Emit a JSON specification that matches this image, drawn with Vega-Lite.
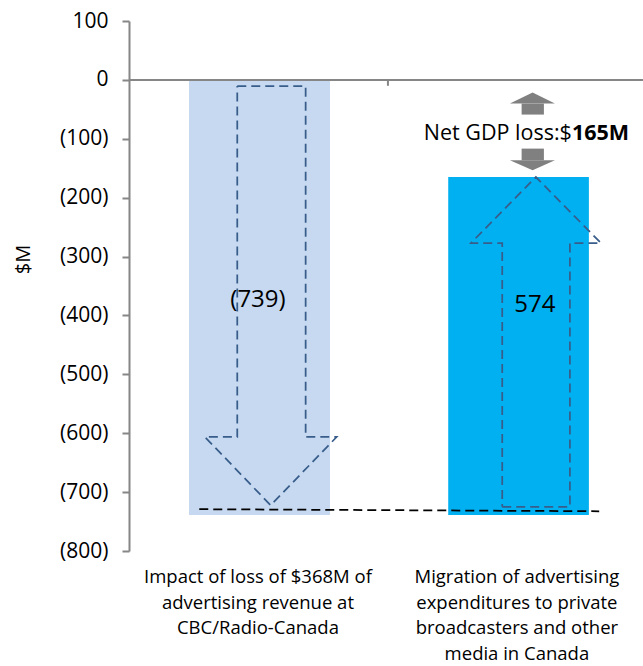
{
  "$schema": "https://vega.github.io/schema/vega-lite/v6.json",
  "width": 514,
  "height": 530,
  "autosize": {"type": "none"},
  "padding": {"left": 129, "top": 21, "right": 0, "bottom": 115},
  "background": "#ffffff",
  "config": {"font": "Open Sans", "view": {"stroke": null}},
  "datasets": {
    "bars": [
      {"series": "CBC", "x0": 0.2317, "x1": 0.7761, "top": 0, "bottom": -739},
      {"series": "Private", "x0": 1.2328, "x1": 1.776, "top": -165, "bottom": -739}
    ],
    "outline": [
      {"arrow": "down", "o": 1, "x": 0.4181, "y": -10.4},
      {"arrow": "down", "o": 2, "x": 0.6822, "y": -10.4},
      {"arrow": "down", "o": 3, "x": 0.6822, "y": -606.4},
      {"arrow": "down", "o": 4, "x": 0.8019, "y": -606.4},
      {"arrow": "down", "o": 5, "x": 0.5471, "y": -722.4},
      {"arrow": "down", "o": 6, "x": 0.2934, "y": -606.4},
      {"arrow": "down", "o": 7, "x": 0.4181, "y": -606.4},
      {"arrow": "down", "o": 8, "x": 0.4181, "y": -10.4},
      {"arrow": "up", "o": 1, "x": 1.4413, "y": -725},
      {"arrow": "up", "o": 2, "x": 1.7027, "y": -725},
      {"arrow": "up", "o": 3, "x": 1.7027, "y": -277},
      {"arrow": "up", "o": 4, "x": 1.8224, "y": -277},
      {"arrow": "up", "o": 5, "x": 1.5714, "y": -165},
      {"arrow": "up", "o": 6, "x": 1.3205, "y": -277},
      {"arrow": "up", "o": 7, "x": 1.4413, "y": -277},
      {"arrow": "up", "o": 8, "x": 1.4413, "y": -725}
    ],
    "shafts": [
      {"x0": 1.5162, "x1": 1.6023, "y0": -40.2, "y1": -58.9},
      {"x0": 1.5162, "x1": 1.6023, "y0": -116.7, "y1": -136.5}
    ],
    "heads": [
      {"head": "up", "x": 1.471, "y": -40.2, "base": -40.2},
      {"head": "up", "x": 1.5587, "y": -21.6, "base": -40.2},
      {"head": "up", "x": 1.6448, "y": -40.2, "base": -40.2},
      {"head": "down", "x": 1.471, "y": -136.5, "base": -136.5},
      {"head": "down", "x": 1.5587, "y": -153.5, "base": -136.5},
      {"head": "down", "x": 1.6448, "y": -136.5, "base": -136.5}
    ],
    "values": [
      {"x": 0.498, "y": -373, "label": "(739)"},
      {"x": 1.5676, "y": -382, "label": "574"}
    ],
    "categories": [
      {"x": 0.498, "label": "Impact of loss of $368M of\nadvertising revenue at\nCBC/Radio-Canada"},
      {"x": 1.498, "label": "Migration of advertising\nexpenditures to private\nbroadcasters and other\nmedia in Canada"}
    ]
  },
  "layer": [
    {
      "data": {"name": "bars"},
      "mark": {"type": "rect"},
      "encoding": {
        "x": {"field": "x0", "type": "quantitative", "scale": {"domain": [0, 1.985], "nice": false, "zero": false}, "axis": null},
        "x2": {"field": "x1"},
        "y": {
          "field": "top",
          "type": "quantitative",
          "scale": {"domain": [-800, 100], "nice": false, "zero": false},
          "axis": {
            "values": [100, 0, -100, -200, -300, -400, -500, -600, -700, -800],
            "labelExpr": "datum.value < 0 ? '(' + format(-datum.value, 'd') + ')' : format(datum.value, 'd')",
            "grid": false,
            "domainColor": "#868686",
            "domainWidth": 2,
            "tickColor": "#868686",
            "tickWidth": 2,
            "tickSize": 7,
            "labelFontSize": 21,
            "labelColor": "#000000",
            "labelPadding": 14,
            "title": "$M",
            "titleFontSize": 20,
            "titleFontWeight": "normal",
            "titleColor": "#000000",
            "titleAngle": -90,
            "titleAlign": "center",
            "titleBaseline": "middle",
            "titleX": -106,
            "titleY": 238
          }
        },
        "y2": {"field": "bottom"},
        "color": {"field": "series", "type": "nominal", "scale": {"domain": ["CBC", "Private"], "range": ["#c6d9f1", "#00b0f0"]}, "legend": null}
      }
    },
    {
      "data": {"values": [{"x0": 0, "x1": 1.985, "y": 0}]},
      "mark": {"type": "rule", "color": "#868686", "strokeWidth": 2},
      "encoding": {
        "x": {"field": "x0", "type": "quantitative"},
        "x2": {"field": "x1"},
        "y": {"field": "y", "type": "quantitative"}
      }
    },
    {
      "data": {"values": [{"x": 1, "y0": 0, "y1": -10}]},
      "mark": {"type": "rule", "color": "#868686", "strokeWidth": 2},
      "encoding": {
        "x": {"field": "x", "type": "quantitative"},
        "y": {"field": "y0", "type": "quantitative"},
        "y2": {"field": "y1"}
      }
    },
    {
      "data": {"name": "outline"},
      "mark": {"type": "line", "color": "#385d8a", "strokeWidth": 1.75, "strokeDash": [9, 5], "interpolate": "linear"},
      "encoding": {
        "x": {"field": "x", "type": "quantitative"},
        "y": {"field": "y", "type": "quantitative"},
        "detail": {"field": "arrow"},
        "order": {"field": "o", "type": "quantitative"}
      }
    },
    {
      "data": {"values": [{"x0": 0.2714, "x1": 1.8158, "y0": -729, "y1": -732.5}]},
      "mark": {"type": "rule", "color": "#000000", "strokeWidth": 1.75, "strokeDash": [9, 5]},
      "encoding": {
        "x": {"field": "x0", "type": "quantitative"},
        "x2": {"field": "x1"},
        "y": {"field": "y0", "type": "quantitative"},
        "y2": {"field": "y1"}
      }
    },
    {
      "data": {"name": "shafts"},
      "mark": {"type": "rect", "color": "#808080"},
      "encoding": {
        "x": {"field": "x0", "type": "quantitative"},
        "x2": {"field": "x1"},
        "y": {"field": "y0", "type": "quantitative"},
        "y2": {"field": "y1"}
      }
    },
    {
      "data": {"name": "heads"},
      "mark": {"type": "area", "color": "#808080", "opacity": 1, "interpolate": "linear"},
      "encoding": {
        "x": {"field": "x", "type": "quantitative"},
        "y": {"field": "y", "type": "quantitative", "stack": null},
        "y2": {"field": "base"},
        "detail": {"field": "head"}
      }
    },
    {
      "data": {"name": "values"},
      "mark": {"type": "text", "fontSize": 24, "color": "#000000", "align": "center", "baseline": "middle"},
      "encoding": {
        "x": {"field": "x", "type": "quantitative"},
        "y": {"field": "y", "type": "quantitative"},
        "text": {"field": "label"}
      }
    },
    {
      "data": {"values": [{"x": 1.7104, "y": -92.4, "label": "Net GDP loss:$"}]},
      "mark": {"type": "text", "fontSize": 21.5, "color": "#000000", "align": "right", "baseline": "middle"},
      "encoding": {
        "x": {"field": "x", "type": "quantitative"},
        "y": {"field": "y", "type": "quantitative"},
        "text": {"field": "label"}
      }
    },
    {
      "data": {"values": [{"x": 1.7104, "y": -92.4, "label": "165M"}]},
      "mark": {"type": "text", "fontSize": 21.5, "fontWeight": "bold", "color": "#000000", "align": "left", "baseline": "middle"},
      "encoding": {
        "x": {"field": "x", "type": "quantitative"},
        "y": {"field": "y", "type": "quantitative"},
        "text": {"field": "label"}
      }
    },
    {
      "data": {"name": "categories"},
      "mark": {"type": "text", "fontSize": 18.5, "color": "#000000", "align": "center", "baseline": "top", "lineBreak": "\n", "lineHeight": 25.5, "dy": 17},
      "encoding": {
        "x": {"field": "x", "type": "quantitative"},
        "y": {"datum": -800, "type": "quantitative"},
        "text": {"field": "label"}
      }
    }
  ]
}
